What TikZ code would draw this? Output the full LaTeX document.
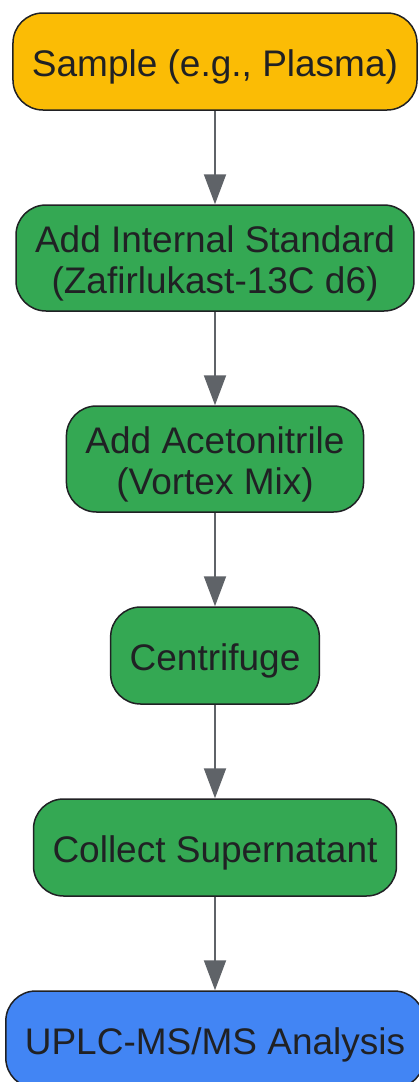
\documentclass[tikz,border=0pt]{standalone}
\usepackage{fontspec}
\setmainfont{Liberation Sans}
\usetikzlibrary{positioning, arrows.meta}

\definecolor{sampleyellow}{HTML}{FBBC05}
\definecolor{prepgreen}{HTML}{34A853}
\definecolor{runblue}{HTML}{4285F4}
\definecolor{arrowgray}{HTML}{5F6368}
\definecolor{textgray}{HTML}{202124}

\newcommand{\tallstrut}{\rule{0pt}{37pt}}

\begin{document}
\begin{tikzpicture}[node distance=93.5pt, >={Triangle[width=22pt,length=30pt]},
    stage/.style={draw=textgray, line width=1.5pt, rounded corners=30pt,
      inner xsep=19pt, minimum height=97pt, align=center, text=textgray,
      font=\fontsize{37}{41}\selectfont},
    twoline/.style={minimum height=106pt}]
    \useasboundingbox (0,0) rectangle (418pt,-1082pt);
    \node[stage, fill=sampleyellow] (sample) at (215pt,-61.5pt) {\tallstrut Sample (e.g., Plasma)};
    \node[stage, twoline, fill=prepgreen] (istd) [below=of sample] {\tallstrut Add Internal Standard\\(Zafirlukast-13C d6)};
    \node[stage, twoline, fill=prepgreen] (acn) [below=of istd] {\tallstrut Add Acetonitrile\\(Vortex Mix)};
    \node[stage, fill=prepgreen] (spin) [below=of acn] {\tallstrut Centrifuge};
    \node[stage, fill=prepgreen] (super) [below=of spin] {\tallstrut Collect Supernatant};
    \node[stage, fill=runblue] (uplc) [below=of super] {\tallstrut UPLC-MS/MS Analysis};

      \path[->, arrowgray, line width=2pt]
      (sample) edge (istd)
      (istd) edge (acn)
      (acn) edge (spin)
      (spin) edge (super)
      (super) edge (uplc);
  \end{tikzpicture}
\end{document}
